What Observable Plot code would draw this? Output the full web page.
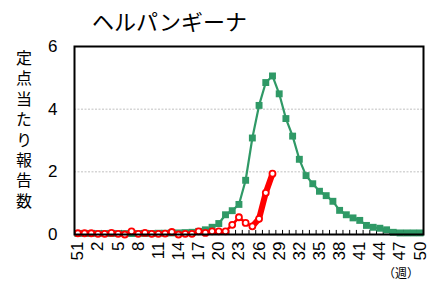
<!DOCTYPE html>
<html>
<head>
<meta charset="utf-8">
<script src="https://cdn.jsdelivr.net/npm/d3@7"></script>
<script src="https://cdn.jsdelivr.net/npm/@observablehq/plot@0.6"></script>
<style>
  body { margin: 0; background: #fff; }
  #wrap { position: relative; width: 435px; height: 282px; overflow: hidden; font-family: "Liberation Sans", Arial, sans-serif; }
  #title { position: absolute; left: 92px; top: 6px; font-family: "Noto Sans CJK JP", sans-serif; font-size: 22px; line-height: 28px; color: #000; white-space: nowrap; }
  #ylab { position: absolute; left: 15px; top: 50px; font-family: "Noto Sans CJK JP", sans-serif; font-size: 16px; writing-mode: vertical-rl; text-orientation: upright; letter-spacing: 4.4px; line-height: 18px; color: #000; }
  #unit { position: absolute; left: 383px; top: 265px; font-family: "Noto Sans CJK JP", sans-serif; font-size: 12px; line-height: 16px; color: #000; white-space: nowrap; }
  #chart { position: absolute; left: 0; top: 0; }
</style>
</head>
<body>
<div id="wrap">
  <div id="chart"></div>
  <div id="title">ヘルパンギーナ</div>
  <div id="ylab">定点当たり報告数</div>
  <div id="unit">（週）</div>
</div>
<script>
const weeks = ["51","52","1","2","3","4","5","6","7","8","9","10","11","12","13","14","15","16","17","18","19","20","21","22","23","24","25","26","27","28","29","30","31","32","33","34","35","36","37","38","39","40","41","42","43","44","45","46","47","48","49","50"];
const tickLabels = ["51","2","5","8","11","14","17","20","23","26","29","32","35","38","41","44","47","50"];
const yTicks = [0, 2, 4, 6];
const gridValues = [2, 4];
const prevYear = [0.03,0.03,0.03,0.03,0.03,0.03,0.03,0.03,0.03,0.03,0.03,0.03,0.04,0.04,0.05,0.05,0.06,0.07,0.10,0.15,0.23,0.35,0.63,0.76,0.96,1.73,3.08,4.12,4.85,5.06,4.49,3.70,3.14,2.40,1.88,1.62,1.38,1.24,1.06,0.77,0.63,0.53,0.45,0.29,0.23,0.20,0.15,0.07,0.05,0.05,0.05,0.05];
const thisYear = [0.04,0.04,0.04,0.02,0.02,0.05,0.02,0.00,0.10,0.02,0.05,0.02,0.02,0.03,0.08,0.00,0.02,0.02,0.10,0.05,0.10,0.10,0.10,0.31,0.55,0.37,0.26,0.50,1.33,1.94];

const prevData = weeks.map((w, i) => ({week: w, value: prevYear[i]}));
const curData = thisYear.map((v, i) => ({week: weeks[i], value: v}));
const curHighlight = curData.slice(26);

const W = 435, H = 282, ML = 74, MR = 12, MT = 46, MB = 48;
const step = (W - ML - MR) / weeks.length;

const chart = Plot.plot({
  width: W, height: H,
  marginLeft: ML, marginRight: MR, marginTop: MT, marginBottom: MB,
  style: {fontFamily: "'Liberation Sans', Arial, sans-serif", background: "transparent", color: "#000"},
  x: {type: "point", domain: weeks, padding: 0.5},
  y: {domain: [0, 6]},
  marks: [
    Plot.ruleY(gridValues, {stroke: "#c0c0c0", strokeDasharray: "2,1.5", strokeWidth: 1}),
    Plot.ruleX(weeks.slice(1), {x: d => d, dx: -step / 2, y1: 0, y2: 0.13, stroke: "#000", strokeWidth: 1}),
    Plot.ruleY(gridValues, {y: d => d, x2: gridValues.map(() => weeks[0]), stroke: "#000", strokeWidth: 1}),
    Plot.axisY(yTicks, {tickSize: 0, tickPadding: 17, fontSize: 17, label: null}),
    Plot.axisX(tickLabels, {tickSize: 0, tickPadding: 7, tickRotate: -90, fontSize: 17, label: null}),
    Plot.line(prevData, {x: "week", y: "value", stroke: "#2f9966", strokeWidth: 2.2}),
    Plot.dot(prevData, {x: "week", y: "value", symbol: "square", r: 3.9, fill: "#2f9966", stroke: "none"}),
    Plot.line(curData, {x: "week", y: "value", stroke: "#ff0000", strokeWidth: 2.6}),
    Plot.line(curHighlight, {x: "week", y: "value", stroke: "#ff0000", strokeWidth: 6}),
    Plot.dot(curData, {x: "week", y: "value", r: 3, fill: "#fff", stroke: "#ff0000", strokeWidth: 1.8}),
    Plot.frame({stroke: "#000", strokeWidth: 2})
  ]
});
document.getElementById("chart").appendChild(chart);
</script>
</body>
</html>
